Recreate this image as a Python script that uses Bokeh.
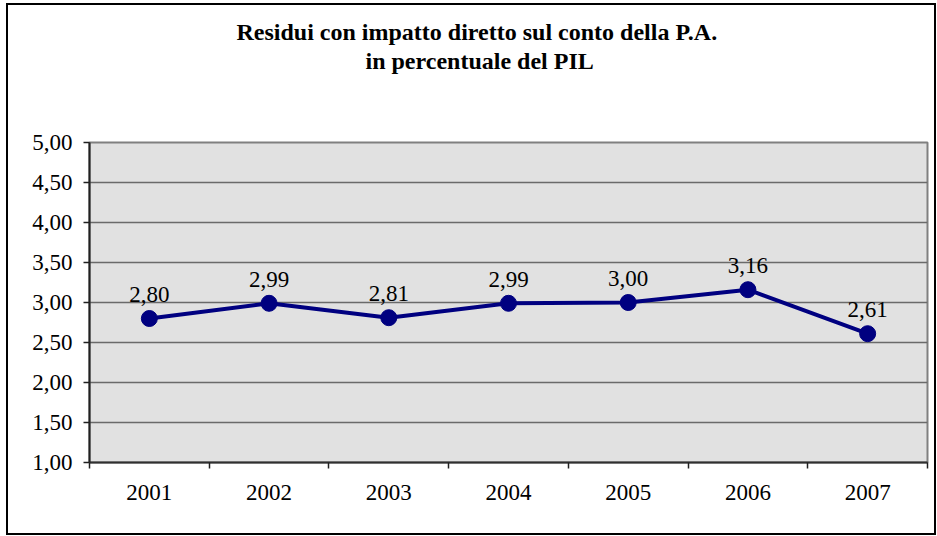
from bokeh.plotting import figure
from bokeh.models import Range1d, FixedTicker, Title, ColumnDataSource
from bokeh.core.properties import value
from bokeh.embed import file_html
from bokeh.resources import INLINE

# ---- data ----
years = [2001, 2002, 2003, 2004, 2005, 2006, 2007]
values = [2.80, 2.99, 2.81, 2.99, 3.00, 3.16, 2.61]
value_labels = ["2,80", "2,99", "2,81", "2,99", "3,00", "3,16", "2,61"]
y_ticks = [1.0, 1.5, 2.0, 2.5, 3.0, 3.5, 4.0, 4.5, 5.0]
y_tick_labels = ["1,00", "1,50", "2,00", "2,50", "3,00", "3,50", "4,00", "4,50", "5,00"]
x_tick_labels = ["2001", "2002", "2003", "2004", "2005", "2006", "2007"]
title_lines = ["Residui con impatto diretto sul conto della P.A.", "in percentuale del PIL"]

FONT = "'Liberation Serif', 'Times New Roman', serif"
LABEL_SIZE = "23px"

W, H = 930, 532
p = figure(width=W, height=H, output_backend="svg", toolbar_location=None,
           x_range=Range1d(years[0] - 0.5, years[-1] + 0.5),
           y_range=Range1d(y_ticks[0], y_ticks[-1]),
           min_border_left=81, min_border_top=137, min_border_right=11, min_border_bottom=75)
p.styles = {"border": "2px solid black", "box-sizing": "border-box",
            "margin-left": "6px", "margin-top": "3px"}
p.border_fill_color = "white"
p.background_fill_color = "#e1e1e1"
p.outline_line_color = "#808080"
p.outline_line_width = 2

# y axis
p.yaxis.ticker = FixedTicker(ticks=y_ticks)
p.yaxis.major_label_overrides = {t: l for t, l in zip(y_ticks, y_tick_labels)}
p.yaxis.major_label_text_font = FONT
p.yaxis.major_label_text_font_size = LABEL_SIZE
p.yaxis.major_label_text_color = "black"
p.yaxis.major_label_standoff = 11
p.yaxis.major_tick_in = 0
p.yaxis.major_tick_out = 6
p.yaxis.major_tick_line_color = "#202020"
p.yaxis.major_tick_line_width = 1.5
p.yaxis.minor_tick_line_color = None
p.yaxis.axis_line_color = "#202020"
p.yaxis.axis_line_width = 2

# x axis: labels at years, ticks at boundaries
bounds = [y - 0.5 for y in years] + [years[-1] + 0.5]
p.xaxis.ticker = FixedTicker(ticks=years, minor_ticks=bounds)
p.xaxis.major_label_overrides = {y: l for y, l in zip(years, x_tick_labels)}
p.xaxis.major_label_text_font = FONT
p.xaxis.major_label_text_font_size = LABEL_SIZE
p.xaxis.major_label_text_color = "black"
p.xaxis.major_label_standoff = 16
p.xaxis.major_tick_in = 0
p.xaxis.major_tick_out = 0
p.xaxis.major_tick_line_color = None
p.xaxis.minor_tick_in = 0
p.xaxis.minor_tick_out = 6
p.xaxis.minor_tick_line_color = "#202020"
p.xaxis.minor_tick_line_width = 1.5
p.xaxis.axis_line_color = "#303030"
p.xaxis.axis_line_width = 2

# grid
p.xgrid.grid_line_color = None
p.ygrid.ticker = FixedTicker(ticks=y_ticks)
p.ygrid.grid_line_color = "#6a6a6a"
p.ygrid.grid_line_width = 1.5

src = ColumnDataSource(dict(x=years, y=values, lab=value_labels))
p.line("x", "y", source=src, line_color="#000080", line_width=4)
p.scatter("x", "y", source=src, size=16, fill_color="#000080", line_color="#000080")
p.text("x", "y", text="lab", source=src, text_font=value(FONT), text_font_size=LABEL_SIZE,
       text_color="black", text_align="center", text_baseline="alphabetic", y_offset=-24)

# title: spacer next to the frame, then the two lines (added outward)
def title_part(text, offset, standoff, size="24px", visible=True):
    return Title(text=text, align="left", offset=offset, standoff=standoff,
                 vertical_align="bottom", text_font=FONT, text_font_size=size,
                 text_font_style="bold", text_color="black" if visible else "white")

p.add_layout(title_part(" ", 0, 40, size="22px", visible=False), "above")
p.add_layout(title_part(title_lines[1], 276, 3), "above")
p.add_layout(title_part(title_lines[0], 147, 0), "above")

open("out.html", "w").write(file_html(p, INLINE))
